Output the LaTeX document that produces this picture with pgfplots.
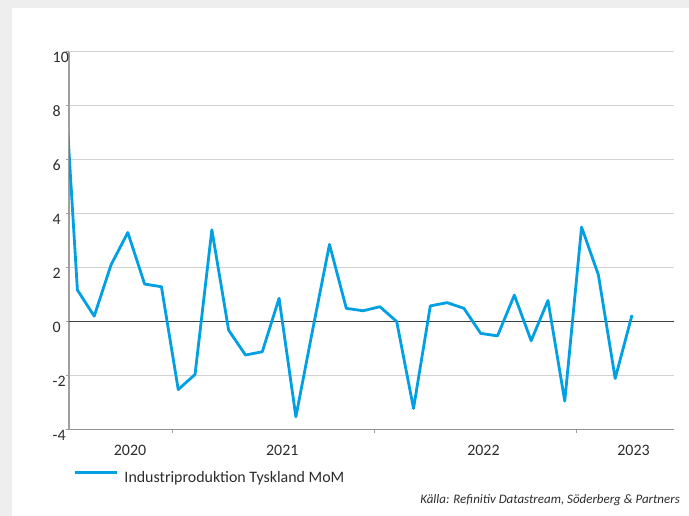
\documentclass[border=0pt]{standalone}
\usepackage{pgfplots}
\pgfplotsset{compat=1.18}
\usepackage{fontspec}
\setmainfont{Carlito}
\definecolor{linecol}{RGB}{0,160,227}
\definecolor{txt}{RGB}{45,45,45}
\definecolor{bg}{RGB}{239,238,238}
\pgfplotstableread{
k v
1 11.4
2 1.17
3 0.2
4 2.1
5 3.3
6 1.39
7 1.29
8 -2.52
9 -1.96
10 3.4
11 -0.32
12 -1.24
13 -1.12
14 0.86
15 -3.53
16 -0.3
17 2.86
18 0.49
19 0.40
20 0.55
21 0.0
22 -3.22
23 0.58
24 0.70
25 0.49
26 -0.44
27 -0.53
28 0.98
29 -0.71
30 0.78
31 -2.95
32 3.50
33 1.73
34 -2.11
35 0.24
}\ipdata
\begin{document}
\begin{tikzpicture}
\useasboundingbox (0,0) rectangle (689bp,516bp);
\fill[bg] (0,0) rectangle (689bp,516bp);
\fill[white] (12bp,0) rectangle (689bp,508bp);
\begin{axis}[
  at={(69bp,86.5bp)}, anchor=south west, scale only axis,
  width=605bp, height=377.8bp,
  xmin=1.5, xmax=37.5, ymin=-4, ymax=10,
  axis x line=bottom, axis y line=left,
  axis line style={-},
  x axis line style={draw=gray!85, line width=1.8bp},
  y axis line style={draw=gray!75, line width=1.2bp},
  tick align=outside,
  major tick length=3.5bp,
  tick style={draw=gray!75, line width=1bp},
  ytick={-4,-2,0,2,4,6,8,10},
  yticklabels={-4,-2,0,2,4,6,8,10},
  ymajorgrids,
  grid style={draw=gray!35, line width=1.2bp},
  extra y ticks={0}, extra y tick labels={},
  extra y tick style={grid style={draw=black!75, line width=1.2bp}, major tick length=0pt},
  xtick={7.67,19.67,31.67}, xticklabels={},
  extra x ticks={5.13,14.19,26.16,35.09},
  extra x tick labels={2020,2021,2022,2023},
  extra x tick style={major tick length=0pt},
  xticklabel style={font=\fontsize{16}{19}\selectfont, text=txt, anchor=center, inner sep=0pt, yshift=-21.2bp},
  yticklabel style={font=\fontsize{16}{19}\selectfont, text=txt, anchor=west, inner sep=0pt, xshift=-13bp, yshift=-5.5bp},
  legend style={at={(axis description cs:0.0071,-0.127)}, anchor=west, draw=none, fill=none,
    inner sep=0pt, outer sep=0pt, font=\fontsize{16}{19}\selectfont, text=txt,
    nodes={inner sep=0pt}, /tikz/every odd column/.append style={column sep=6bp}},
  legend image code/.code={\draw[#1, line width=3.2bp] (0bp,5bp) -- (42bp,5bp);},
]
\addplot[linecol, line width=2.8bp, line join=round] table[x=k, y=v] {\ipdata};
\addlegendentry{Industriproduktion Tyskland MoM}
\end{axis}
\node[anchor=east, inner sep=0pt, font=\fontsize{13}{15}\selectfont\itshape, text=txt] at (680bp,16bp) {Källa: Refinitiv Datastream, Söderberg \& Partners};
\end{tikzpicture}
\end{document}
